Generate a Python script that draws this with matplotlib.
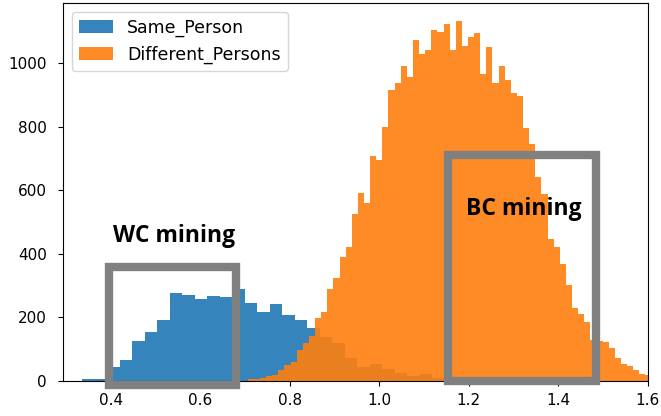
import numpy as np
import matplotlib
matplotlib.use('Agg')
import matplotlib.pyplot as plt
from matplotlib.patches import Rectangle

# 同一人 / 不同人 距离分布（直方图计数）
same_start, same_width = 0.3365, 0.02792
same_counts = [5, 6, 43, 66, 126, 154, 191, 278, 270, 257,
               268, 263, 291, 247, 217, 242, 209, 191, 168, 140,
               120, 72, 45, 52, 37, 25, 16, 22, 10, 4]

diff_start, diff_width = 0.706, 0.013673
diff_counts = [5, 5, 10, 17, 19, 35, 50, 61, 99, 120,
               142, 197, 217, 291, 325, 390, 421, 526, 591, 560,
               707, 696, 800, 915, 937, 992, 958, 1073, 1030, 1041,
               1104, 1099, 1122, 1042, 1133, 1054, 1083, 1096, 965, 1052,
               939, 992, 948, 906, 898, 795, 746, 641, 589, 448,
               421, 369, 303, 230, 210, 186, 129, 127, 123, 103,
               71, 52, 48, 35, 22, 20]

same_edges = same_start + same_width * np.arange(len(same_counts) + 1)
diff_edges = diff_start + diff_width * np.arange(len(diff_counts) + 1)

fig = plt.figure(figsize=(6.61, 4.16), dpi=100)
ax = fig.add_axes([0.0953, 0.0841, 0.8847, 0.9087])

ax.hist(same_edges[:-1], bins=same_edges, weights=same_counts,
        alpha=0.9, label='Same_Person')
ax.hist(diff_edges[:-1], bins=diff_edges, weights=diff_counts,
        alpha=0.9, label='Different_Persons')

ax.set_xlim(0.293, 1.6)
ax.set_xticks([0.4, 0.6, 0.8, 1.0, 1.2, 1.4, 1.6])
ax.set_yticks([0, 200, 400, 600, 800, 1000])
ax.tick_params(labelsize=11)
ax.tick_params(axis='y', pad=8)
ax.tick_params(axis='x', pad=5)
ax.legend(loc='upper left', fontsize=12.5)

# 标注框
ax.add_patch(Rectangle((0.396, -11), 0.283, 370, fill=False,
                       edgecolor='#808080', linewidth=6, clip_on=False, zorder=5))
ax.add_patch(Rectangle((1.153, 0), 0.332, 710, fill=False,
                       edgecolor='#808080', linewidth=6, clip_on=False, zorder=5))
ax.text(0.5415, 455, 'WC mining', ha='center', va='center',
        fontsize=16.5, fontweight='bold', family='Open Sans', zorder=6)
ax.text(1.324, 540, 'BC mining', ha='center', va='center',
        fontsize=16.5, fontweight='bold', family='Open Sans', zorder=6)

fig.savefig('out.png', dpi=100)
